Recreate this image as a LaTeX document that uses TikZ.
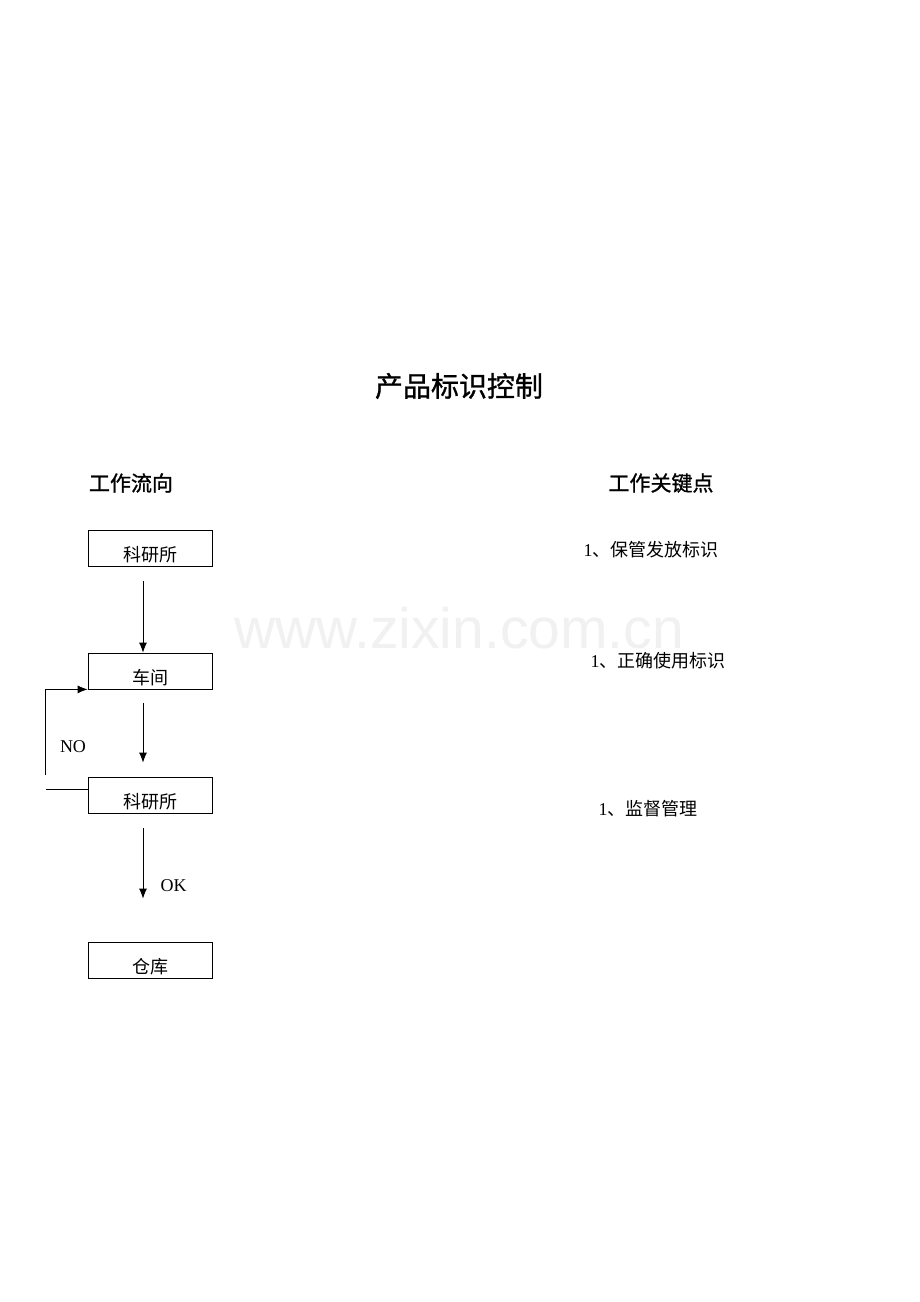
\documentclass[tikz,border=0pt]{standalone}
\usepackage{fontspec}
\setmainfont{Liberation Serif}
\newfontfamily\cjk{Noto Sans CJK SC}
\newfontfamily\cjkhead[FakeBold=1]{Noto Sans CJK SC}
\newfontfamily\wmfont{Liberation Sans}
\usetikzlibrary{arrows.meta,positioning}
\tikzset{
  flowbox/.style={draw, line width=0.8pt, minimum width=124pt, minimum height=36pt, inner sep=0pt,
    text height=26pt, text depth=0pt, font=\cjk\fontsize{18}{18}\selectfont},
  keytext/.style={font=\fontsize{18}{18}\selectfont},
  headtext/.style={font=\cjkhead\fontsize{21}{21}\selectfont}
}
\begin{document}
\begin{tikzpicture}[x=1pt,y=-1pt,>={Latex[length=10pt,width=8pt]},line width=0.8pt]
  \useasboundingbox[fill=white] (0,0) rectangle (920,1302);
  % watermark
  \node [inner sep=0pt,font=\wmfont\fontsize{57}{57}\selectfont,text=gray!11] (mark) at (459,628) {www.zixin.com.cn};
  % titles
  \node [font=\cjkhead\fontsize{28}{28}\selectfont] (title) at (459,386) {产品标识控制};
  \node [headtext] (flowhead) at (131,483) {工作流向};
  \node [headtext] (keyhead) at (661,483) {工作关键点};
  % flow
  \node [flowbox] (lab1) at (150,548) {科研所};
  \node [flowbox] (shop) at (150,671) {车间};
  \node [flowbox] (lab2) at (150,795) {科研所};
  \node [flowbox] (store) at (150,960) {仓库};
  \draw [->] ([xshift=-7pt,yshift=-15pt]lab1.south) -- ([xshift=-7pt]shop.north);
  \draw [->] ([xshift=-7pt,yshift=-14pt]shop.south) -- ([xshift=-7pt,yshift=14pt]lab2.north);
  \draw [->] ([xshift=-7pt,yshift=-15pt]lab2.south) -- ([xshift=-7pt,yshift=43pt]store.north)
    node [anchor=west,pos=0.82,xshift=14pt,font=\fontsize{18}{18}\selectfont] (ok) {OK};
  \draw ([yshift=6pt]lab2.west) -- ++(-42,0) coordinate (back);
  \draw [->] ([yshift=14pt]back) |- (shop.south west);
  \node [font=\fontsize{18}{18}\selectfont] (no) at (73,747) {NO};
  % key points
  \node [keytext] (key1) at (651,550) {1{\cjk 、保管发放标识}};
  \node [keytext] (key2) at (658,661) {1{\cjk 、正确使用标识}};
  \node [keytext] (key3) at (648,809) {1{\cjk 、监督管理}};
\end{tikzpicture}
\end{document}
